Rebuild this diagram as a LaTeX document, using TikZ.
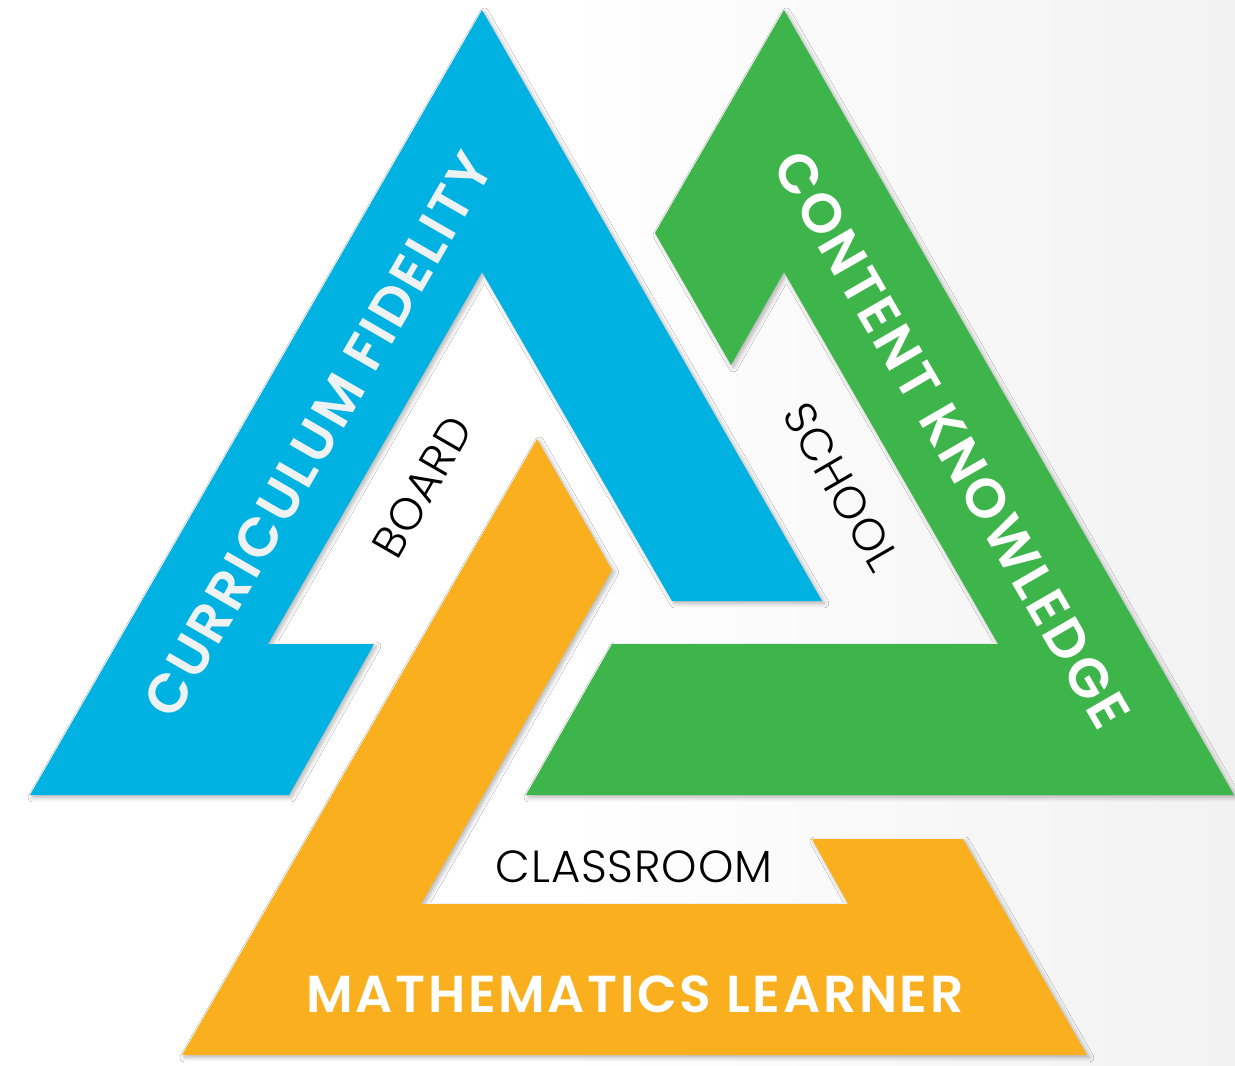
\documentclass[tikz,border=0pt]{standalone}
\usepackage{fontspec}
\setmainfont{Poppins}
\newfontfamily\armfont{Poppins SemiBold}[LetterSpace=5]
\newfontfamily\levelfont{Poppins Light}[LetterSpace=2]
\usepackage{tikz}
\usetikzlibrary{positioning,shadows.blur}
\definecolor{cfblue}{RGB}{0, 178, 226}
\definecolor{ckgreen}{RGB}{61, 181, 74}
\definecolor{mlorange}{RGB}{250, 176, 30}
\definecolor{bggray}{RGB}{242, 242, 242}
\definecolor{cfwhite}{RGB}{238, 242, 242}
\tikzstyle{arm} = [blur shadow={shadow xshift=1.2pt, shadow yshift=-1.2pt, shadow blur steps=6, shadow opacity=30}]
\tikzstyle{bigtxt} = [text=white, font=\armfont\fontsize{26}{30}\selectfont, inner sep=0pt]
\tikzstyle{slanttxt} = [bigtxt, font=\armfont\fontsize{27.5}{32}\selectfont]
\tikzstyle{smalltxt} = [text=black, font=\levelfont\fontsize{22.5}{26}\selectfont, inner sep=0pt]

\begin{document}
\begin{tikzpicture}[x=0.5pt, y=-0.5pt]

% background =============================
\useasboundingbox (0,0) rectangle (1235,1065);
\fill[white] (0,0) rectangle (1235,1065);
\shade[left color=white, right color=bggray] (560,0) rectangle (1235,1065);

% triangles =============================

% curriculum fidelity
\fill[arm, cfblue] (482,10) -- (822,601) -- (672,601) -- (482,272) -- (268,644)
  -- (374,644) -- (289,795) -- (30,795) -- cycle;

% content knowledge
\fill[arm, ckgreen] (784,10) -- (1234,795) -- (526,795) -- (612,644) -- (998,644)
  -- (784,272) -- (731,365) -- (655,233) -- cycle;

% mathematics learner
\fill[arm, mlorange] (537,439) -- (612,570) -- (421,904) -- (848,904) -- (812,839)
  -- (963,839) -- (1087,1055) -- (182,1055) -- cycle;

% labels =============================
\node[slanttxt, text=cfwhite, rotate=60] (cf) at (318,435) {CURRICULUM FIDELITY};
\node[slanttxt, rotate=-60] (ck) at (952,440) {CONTENT KNOWLEDGE};
\node[bigtxt] (ml) at (635,994) {MATHEMATICS LEARNER};

\node[smalltxt, rotate=60] (board) at (422,487) {BOARD};
\node[smalltxt, rotate=-60] (school) at (841,487) {SCHOOL};
\node[smalltxt] (classroom) at (634,867) {CLASSROOM};

\end{tikzpicture}
\end{document}
